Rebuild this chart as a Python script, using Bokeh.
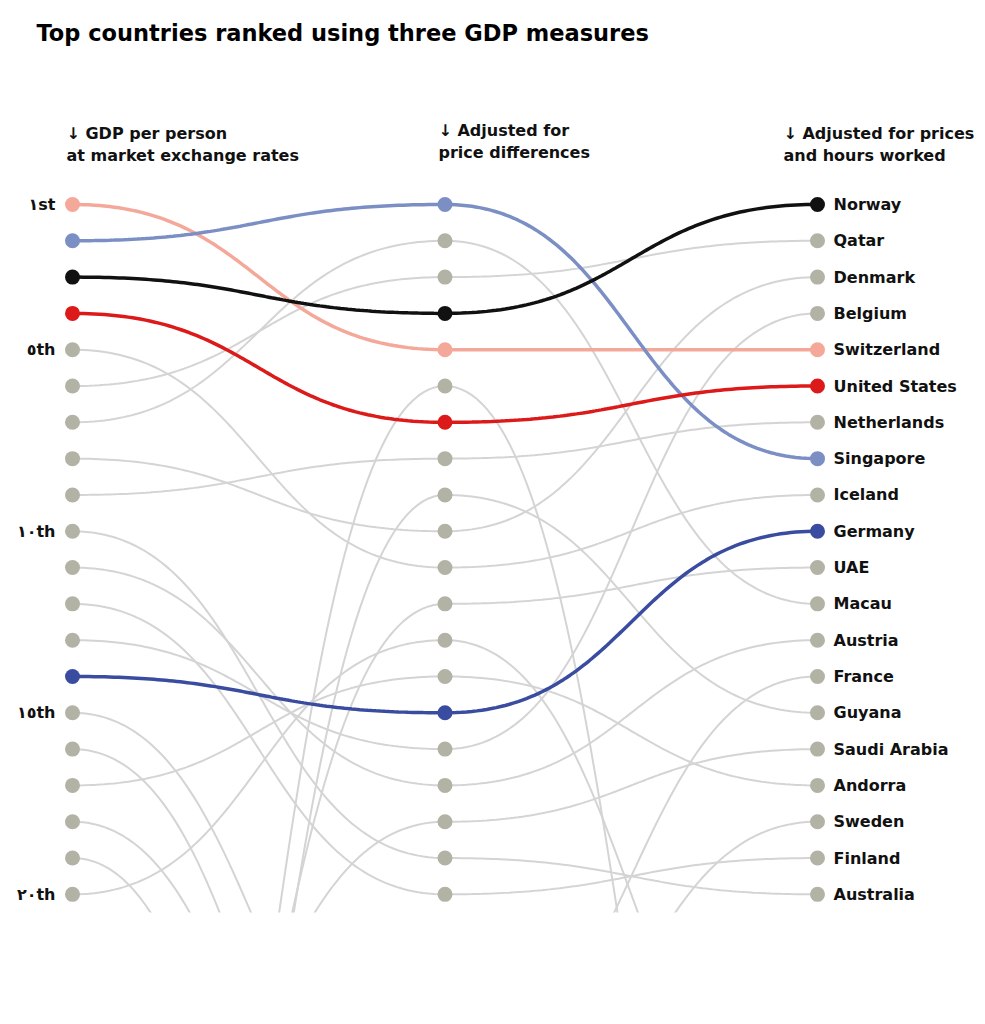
import numpy as np
from bokeh.plotting import figure
from bokeh.models import Range1d
from bokeh.core.properties import value
from bokeh.embed import file_html
from bokeh.resources import INLINE

# ---------------- data ----------------
countries = ["Switzerland", "Singapore", "Norway", "United States", "Iceland",
             "Qatar", "Macau", "Denmark", "Netherlands", "Australia",
             "Austria", "Finland", "Belgium", "Germany", "Sweden",
             "Israel", "Andorra", "Canada", "New Zealand", "Hong Kong",
             "UAE", "Brunei", "Guyana", "Saudi Arabia", "France"]
rank_market = [1, 2, 3, 4, 5, 6, 7, 8, 9, 10, 11, 12, 13, 14, 15, 16, 17, 18, 19, 20, 38, 43, 45, 29, 26]
rank_ppp    = [5, 1, 4, 7, 11, 3, 2, 10, 8, 19, 17, 20, 16, 15, 27, 31, 14, 32, 40, 13, 12, 6, 9, 18, 25]
rank_hours  = [5, 8, 1, 6, 9, 2, 12, 3, 7, 20, 13, 19, 4, 10, 18, 30, 17, 29, 35, 27, 11, 40, 15, 16, 14]

highlight = {"Switzerland": "#f4a89a", "Singapore": "#7b8fc4", "Norway": "#111111",
             "United States": "#dc1a1a", "Germany": "#3a4ca0"}

column_titles = [["\u2193 GDP per person", "at market exchange rates"],
                 ["\u2193 Adjusted for", "price differences"],
                 ["\u2193 Adjusted for prices", "and hours worked"]]
rank_ticks = [1, 5, 10, 15, 20]
rank_tick_labels = ["\u0661st", "\u0665th", "\u0661\u0660th", "\u0661\u0665th", "\u0662\u0660th"]
title = "Top countries ranked using three GDP measures"

# ---------------- layout helpers (pixel -> data) ----------------
PX_X = 372.5     # pixels per column
PX_Y = 36.316    # pixels per rank
X0, Y0 = 72, 204
def xd(px): return (px - X0) / PX_X
def yd(py): return 1 + (py - Y0) / PX_Y

W, H, BOTTOM = 985, 1024, 112
p = figure(width=W, height=H, output_backend="svg", toolbar_location=None,
           x_range=Range1d(xd(0), xd(W)), y_range=Range1d(20.5, yd(0)),
           min_border_left=0, min_border_right=0, min_border_top=0,
           min_border_bottom=BOTTOM)
p.axis.visible = False
p.grid.visible = False
p.outline_line_color = None
p.background_fill_color = "white"
p.border_fill_color = "white"

def bump(x0, y0, x1, y1, n=100):
    t = np.linspace(0, 1, n)
    xm = (x0 + x1) / 2
    xs = (1-t)**3*x0 + 3*(1-t)**2*t*xm + 3*(1-t)*t**2*xm + t**3*x1
    ys = (1-t)**3*y0 + 3*(1-t)**2*t*y0 + 3*(1-t)*t**2*y1 + t**3*y1
    return xs, ys

ranks = list(zip(rank_market, rank_ppp, rank_hours))

def paths(r):
    return [bump(c, r[c], c+1, r[c+1]) for c in range(2)]

# grey lines
gx, gy = [], []
for name, r in zip(countries, ranks):
    if name in highlight:
        continue
    for xs, ys in paths(r):
        gx.append(xs); gy.append(ys)
p.multi_line(gx, gy, line_color="#d4d4d4", line_width=2)

# grey dots
dx, dy = [], []
for name, r in zip(countries, ranks):
    if name in highlight:
        continue
    for c in range(3):
        if r[c] <= 20:
            dx.append(c); dy.append(r[c])
p.scatter(dx, dy, size=15, fill_color="#b2b2a5", line_color=None)

# highlighted
for name, r in zip(countries, ranks):
    if name not in highlight:
        continue
    col = highlight[name]
    for xs, ys in paths(r):
        p.line(xs, ys, line_color=col, line_width=3.5)
    xs_d = [c for c in range(3) if r[c] <= 20]
    ys_d = [r[c] for c in range(3) if r[c] <= 20]
    p.scatter(xs_d, ys_d, size=15, fill_color=col, line_color=None)

FONT = value("DejaVu Sans")

# country labels (right column)
lab_names = [n for n, r in zip(countries, ranks) if r[2] <= 20]
lab_y = [r[2] for r in ranks if r[2] <= 20]
p.text([xd(833)]*len(lab_names), lab_y, text=lab_names, text_font=FONT,
       text_font_style="bold", text_font_size="16px", text_baseline="middle",
       text_align="left", text_color="#111111")

# rank labels (left)
p.text([xd(55)]*len(rank_ticks), rank_ticks, text=rank_tick_labels, text_font=FONT,
       text_font_style="bold", text_font_size="16px", text_baseline="middle",
       text_align="right", text_color="#111111")

# column titles
hx = [66, 438, 783]
hy = [[133, 155], [130, 152], [133, 155]]
for i in range(3):
    for j in range(2):
        p.text([xd(hx[i])], [yd(hy[i][j])], text=[column_titles[i][j]],
               text_font=FONT, text_font_style="bold",
               text_font_size="16px", text_baseline="middle", text_align="left",
               text_color="#111111")

# title
p.text([xd(36)], [yd(33)], text=[title], text_font=FONT,
       text_font_style="bold", text_font_size="22.5px", text_baseline="middle",
       text_align="left", text_color="#000000")

open("out.html", "w").write(file_html(p, INLINE))
